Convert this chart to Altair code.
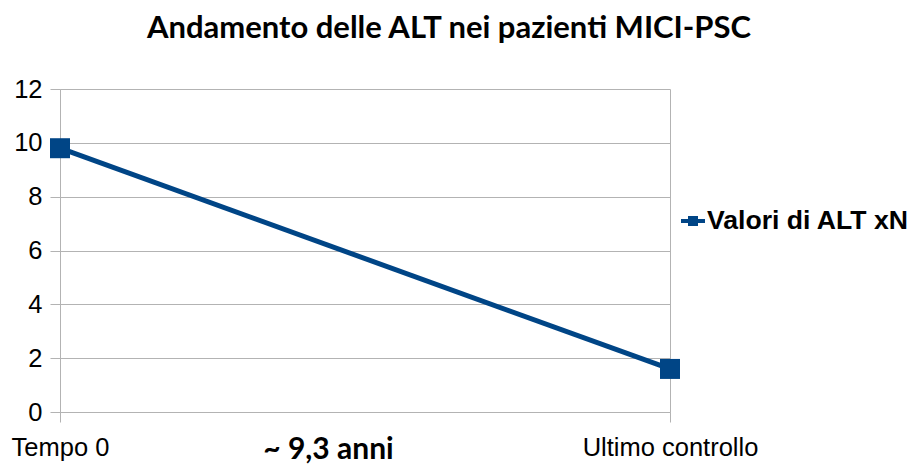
import altair as alt
import pandas as pd

categories = ["Tempo 0", "Ultimo controllo"]
values = [9.8, 1.6]
series_name = "Valori di ALT xN"
title_text = "Andamento delle ALT nei pazienti MICI-PSC"
x_title = "~ 9,3 anni"
y_ticks = [0, 2, 4, 6, 8, 10, 12]

df = pd.DataFrame({"cat": categories, "val": values, "serie": [series_name] * len(values)})

BLUE = "#004586"
GRID = "#b3b3b3"

x_enc = alt.X(
    "cat:N",
    sort=categories,
    scale=alt.Scale(type="point", padding=0),
    axis=alt.Axis(
        title=x_title,
        titleFont="Lato",
        titleFontSize=30,
        titleFontWeight="bold",
        titleColor="black",
        titleX=268,
        titleY=46,
        titleBaseline="alphabetic",
        titleAnchor="start",
        titleAlign="center",
        labelFont="Liberation Sans",
        labelFontSize=25.5,
        labelColor="black",
        labelAngle=0,
        labelPadding=13,
        labelAlign="center",
        labelFlush=False,
        tickSize=10,
        tickColor=GRID,
        domainColor=GRID,
        grid=True,
        gridColor=GRID,
    ),
)
y_enc = alt.Y(
    "val:Q",
    scale=alt.Scale(domain=[0, 12], nice=False),
    axis=alt.Axis(
        title=None,
        values=y_ticks,
        labelFont="Liberation Sans",
        labelFontSize=25.5,
        labelColor="black",
        labelPadding=8,
        tickSize=10,
        tickColor=GRID,
        domainColor=GRID,
        gridColor=GRID,
    ),
)

line = alt.Chart(df).mark_line(color=BLUE, strokeWidth=5).encode(x=x_enc, y=y_enc)
points = alt.Chart(df).mark_point(shape="square", filled=True, size=400, opacity=1).encode(
    x=x_enc,
    y=y_enc,
    color=alt.Color(
        "serie:N",
        scale=alt.Scale(range=[BLUE]),
        legend=alt.Legend(
            title=None,
            orient="none",
            legendX=619,
            legendY=118,
            padding=0,
            symbolType="M-1,0H1M-0.25,-0.25H0.25V0.25H-0.25Z",
            symbolSize=576,
            symbolStrokeWidth=4,
            symbolStrokeColor=BLUE,
            symbolFillColor=BLUE,
            symbolOpacity=1,
            labelFont="Liberation Sans",
            labelFontSize=26.6,
            labelFontWeight="bold",
            labelColor="black",
            labelOffset=0,
            labelLimit=400,
        ),
    ),
)

chart = (
    alt.layer(line, points)
    .properties(
        width=610,
        height=323,
        autosize=alt.AutoSizeParams(type="none"),
        padding={"left": 52, "top": 81, "right": 242, "bottom": 70},
        title=alt.TitleParams(
            title_text,
            font="Lato",
            fontSize=31,
            fontWeight="bold",
            color="black",
            anchor="middle",
            dx=84,
            baseline="alphabetic",
            offset=8,
        ),
    )
    .configure_view(stroke=None)
)

chart.save("out.html", embed_options={"renderer": "svg", "actions": False})
